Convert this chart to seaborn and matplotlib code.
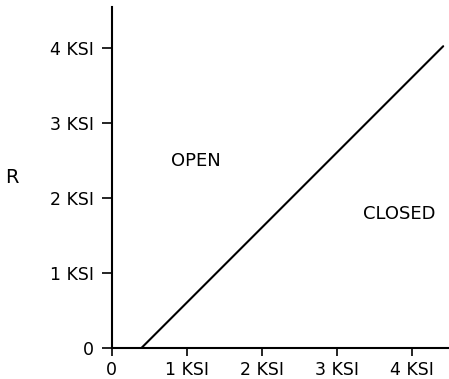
import pandas as pd
import seaborn as sns
from matplotlib import pyplot as plt

# boundary line between open and closed regions (KSI)
x_vals = [0.4, 4.42]
y_vals = [0.0, 4.02]
tick_vals = [0, 1, 2, 3, 4]
tick_labels = ['0', '1 KSI', '2 KSI', '3 KSI', '4 KSI']

df = pd.DataFrame({'x': x_vals, 'y': y_vals})

sns.set_style('ticks')
plt.rcParams['font.family'] = ['DejaVu Sans']
plt.rcParams['text.color'] = 'black'
plt.rcParams['xtick.color'] = 'black'
plt.rcParams['ytick.color'] = 'black'
plt.rcParams['axes.labelcolor'] = 'black'

fig = plt.figure(figsize=(4.49, 3.79), dpi=100)
ax = fig.add_axes([111.7 / 449, 31.3 / 379, 336.3 / 449, 340.7 / 379])

sns.lineplot(data=df, x='x', y='y', color='black', linewidth=1.5, ax=ax)

ax.set_xlim(0, 4.484)
ax.set_ylim(0, 4.543)
ax.set_xticks(tick_vals)
ax.set_xticklabels(tick_labels, fontsize=12.5)
ax.set_yticks(tick_vals)
ax.set_yticklabels(tick_labels, fontsize=12.5)
ax.tick_params(axis='x', length=5.5, width=1.2, pad=4, color='black')
ax.tick_params(axis='y', length=7, width=1.2, pad=6, color='black')

for s in ['top', 'right']:
    ax.spines[s].set_visible(False)
for s in ['left', 'bottom']:
    ax.spines[s].set_color('black')
    ax.spines[s].set_linewidth(1.5)

ax.set_xlabel('')
ax.set_ylabel('R', fontsize=14, rotation=0, labelpad=0, va='center')
ax.yaxis.set_label_coords(-0.298, 0.5)

ax.text(1.12, 2.49, 'OPEN', fontsize=13, ha='center', va='center')
ax.text(3.84, 1.78, 'CLOSED', fontsize=13, ha='center', va='center')

plt.savefig('out.png', dpi=100)
